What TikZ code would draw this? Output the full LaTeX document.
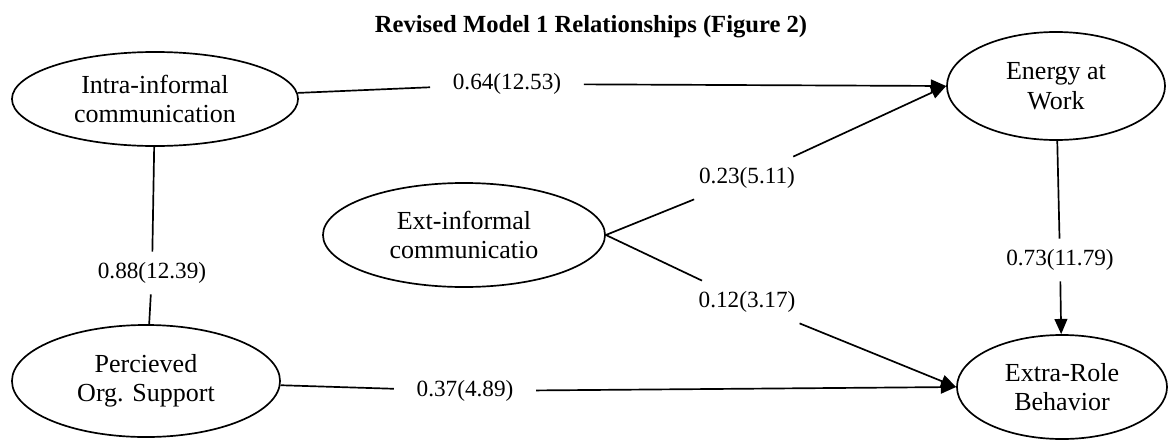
\documentclass[tikz,border=0pt]{standalone}
\usepackage{fontspec}
\setmainfont{Liberation Serif}
\usetikzlibrary{shapes.geometric,arrows.meta}

\begin{document}
\begin{tikzpicture}[x=0.025cm, y=-0.025cm, line width=1.2pt,
  latent/.style={ellipse, draw, inner sep=0pt, align=center,
    font=\fontsize{18.5}{21}\selectfont},
  coef/.style={inner xsep=0.55cm, inner ysep=0.25cm,
    font=\fontsize{16.5}{18}\selectfont},
  effect/.style={-{Triangle[length=0.38cm,width=0.32cm]}}]

\useasboundingbox (0,0) rectangle (1168,441);

% Titulo
\node[font=\fontsize{17.5}{20}\selectfont\bfseries] (title) at (591,27)
{Revised Model 1 Relationships (Figure 2)};

% Variables latentes
\node[latent, minimum width=7.15cm, minimum height=2.35cm] (intra) at (155,99)
{Intra-informal\\communication};
\node[latent, minimum width=5.45cm, minimum height=2.7cm] (energy) at (1056,86)
{Energy at\\Work};
\node[latent, minimum width=7.05cm, minimum height=2.6cm] (ext) at (464,235)
{Ext-informal\\communicatio};
\node[latent, minimum width=6.7cm, minimum height=2.8cm] (pos) at (146,381)
{Percieved\\Org. Support};
\node[latent, minimum width=5.25cm, minimum height=2.6cm] (erb) at (1062,387)
{Extra-Role\\Behavior};

% Coeficientes
\node[coef] (l64) at (507,84) {0.64(12.53)};
\node[coef] (l88) at (152,273) {0.88(12.39)};
\node[coef] (l23) at (747,178) {0.23(5.11)};
\node[coef] (l12) at (747,302) {0.12(3.17)};
\node[coef] (l73) at (1060,260) {0.73(11.79)};
\node[coef] (l37) at (465,391) {0.37(4.89)};

% Relaciones
\draw (intra) -- (l64);
\draw[effect] (l64) -- (energy.west);

\draw (intra) -- (l88);
\draw (l88) -- (pos);

\draw (ext.east) -- (l23);
\draw[effect] (l23) -- (energy.west);

\draw (ext.east) -- (l12);
\draw[effect] (l12) -- (erb.west);

\draw (energy) -- (l73);
\draw[effect] (l73) -- (erb);

\draw (pos) -- (l37);
\draw[effect] (l37) -- (erb.west);

\end{tikzpicture}
\end{document}
